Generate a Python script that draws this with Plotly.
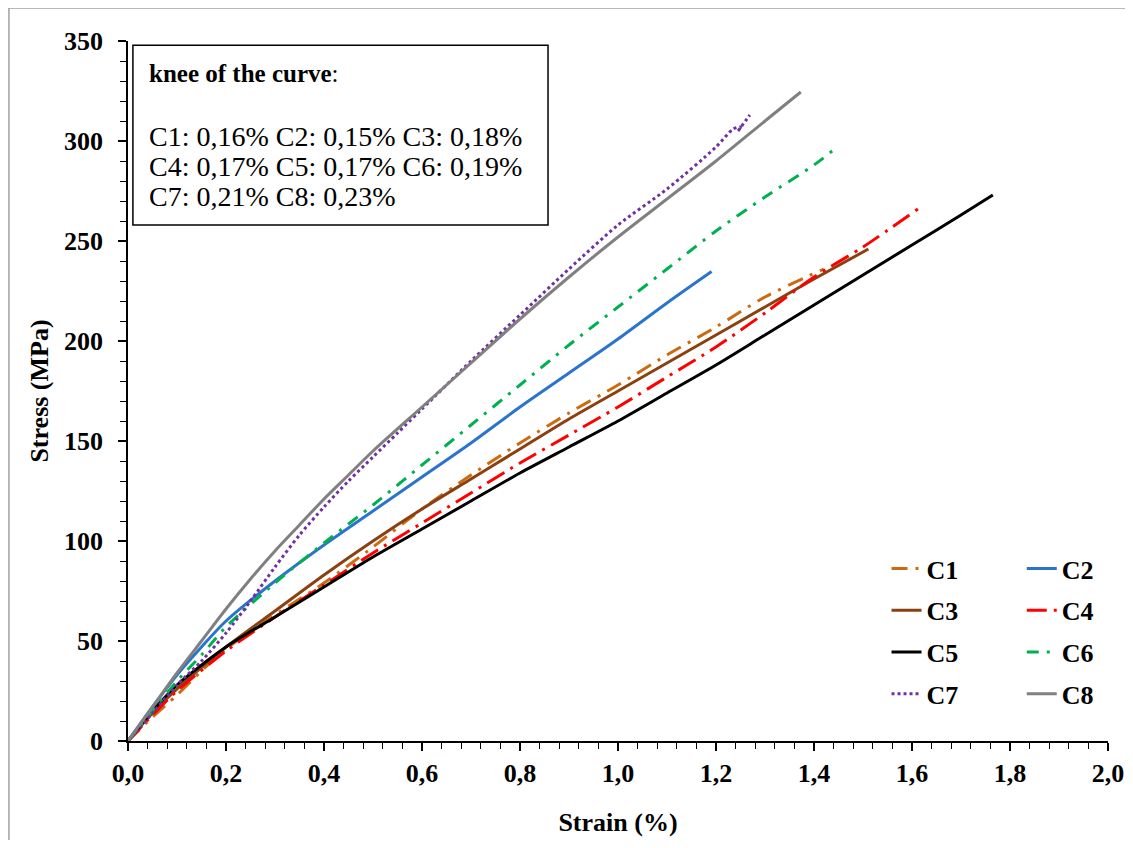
import plotly.graph_objects as go

# stress-strain curves (strain in %, stress in MPa)
c1_strain = [0, 0.05, 0.1, 0.15, 0.2, 0.3, 0.4, 0.5, 0.6, 0.7, 0.8, 0.9, 1.0, 1.1, 1.2, 1.3, 1.42]
c1_stress = [0, 12, 23, 35, 46, 63, 79, 97, 116, 133, 149, 164, 178, 193, 207, 222, 236]

c2_strain = [0, 0.05, 0.1, 0.15, 0.2, 0.3, 0.4, 0.5, 0.6, 0.7, 0.8, 0.9, 1.0, 1.1, 1.191]
c2_stress = [0, 17, 33, 47, 60, 80, 98, 115, 132, 149, 167, 184, 201, 219, 234.7]

c3_strain = [0, 0.05, 0.1, 0.2, 0.3, 0.4, 0.5, 0.6, 0.7, 0.8, 0.9, 1.0, 1.1, 1.2, 1.3, 1.4, 1.511]
c3_stress = [0, 14, 26, 47, 65, 83, 100, 116, 131, 146, 161, 175, 189, 203, 217, 231, 246]

c4_strain = [0, 0.05, 0.1, 0.2, 0.3, 0.4, 0.5, 0.6, 0.7, 0.8, 0.9, 1.0, 1.1, 1.2, 1.3, 1.4, 1.5, 1.616]
c4_stress = [0, 13, 25, 45, 62, 78, 94, 109, 124, 139, 153, 167, 182, 197, 214, 232, 247, 266.7]

c5_strain = [0, 0.05, 0.1, 0.2, 0.3, 0.4, 0.5, 0.6, 0.7, 0.8, 0.9, 1.0, 1.1, 1.2, 1.3, 1.4, 1.5, 1.6, 1.7, 1.765]
c5_stress = [0, 15, 28, 47, 62, 77, 92, 106, 120, 134, 147, 160, 174, 188, 203, 218, 233, 248, 263, 273]

c6_strain = [0, 0.05, 0.1, 0.15, 0.2, 0.3, 0.4, 0.5, 0.6, 0.7, 0.8, 0.9, 1.0, 1.1, 1.2, 1.3, 1.4, 1.437]
c6_stress = [0, 15, 30, 43, 57, 79, 99, 118, 138, 158, 178, 198, 217, 236, 255, 272, 288, 295]

c7_strain = [0, 0.05, 0.1, 0.15, 0.2, 0.25, 0.3, 0.35, 0.4, 0.45, 0.5, 0.55, 0.6, 0.7, 0.8, 0.9, 1.0,
             1.1, 1.2, 1.235, 1.25, 1.245, 1.26, 1.269]
c7_stress = [0, 14, 28, 40, 54, 70, 87, 103, 117, 130, 142, 154, 166, 190, 213, 236, 258,
             276, 297, 306, 307, 305, 310, 313]

c8_strain = [0, 0.05, 0.1, 0.15, 0.2, 0.25, 0.3, 0.35, 0.4, 0.45, 0.5, 0.6, 0.7, 0.8, 0.9,
             1.0, 1.1, 1.2, 1.3, 1.373]
c8_stress = [0, 17, 34, 50, 66, 81, 95, 108, 121, 133, 145, 167, 189, 211, 232,
             252, 271, 290, 310, 324.5]

knee_lines = ["C1: 0,16% C2: 0,15% C3: 0,18%",
              "C4: 0,17% C5: 0,17% C6: 0,19%",
              "C7: 0,21% C8: 0,23%"]

serif = "Liberation Serif, Times New Roman, serif"

curves = [
    ("C1", c1_strain, c1_stress, "#CC6A10", "16px,8px,3px,8px", "legend"),
    ("C2", c2_strain, c2_stress, "#2A74CE", "solid", "legend2"),
    ("C3", c3_strain, c3_stress, "#8B4010", "solid", "legend"),
    ("C4", c4_strain, c4_stress, "#FF0000", "20px,7px,3px,7px", "legend2"),
    ("C5", c5_strain, c5_stress, "#000000", "solid", "legend"),
    ("C6", c6_strain, c6_stress, "#00B050", "12px,8px,3px,8px", "legend2"),
    ("C7", c7_strain, c7_stress, "#7030A0", "3px,3px", "legend"),
    ("C8", c8_strain, c8_stress, "#808080", "solid", "legend2"),
]

fig = go.Figure()
for name, xs, ys, color, dash, leg in curves:
    fig.add_trace(go.Scatter(
        x=xs, y=ys, mode="lines", name=name, legend=leg, legendgroup=name,
        line=dict(color=color, width=3, dash=dash, shape="spline", smoothing=0.8),
    ))

legend_style = dict(
    font=dict(family=serif, size=26, color="black", weight="bold"),
    bgcolor="rgba(0,0,0,0)", tracegroupgap=5, traceorder="grouped",
    yanchor="top", xanchor="left",
)

# page body adds an 8px margin, so the figure is 16px smaller than the window
fig.update_layout(
    width=1117, height=832,
    margin=dict(l=120, r=17, t=33, b=99),
    paper_bgcolor="white", plot_bgcolor="white",
    separators=",.",
    font=dict(family=serif, size=26, color="black"),
    legend=dict(x=0.774, y=0.28, **legend_style),
    legend2=dict(x=0.912, y=0.28, **legend_style),
    xaxis=dict(
        range=[0, 2], tickmode="linear", tick0=0, dtick=0.2, tickformat=".1f",
        automargin=False,
        showgrid=False, zeroline=False, showline=True, linecolor="black", linewidth=1.5,
        ticks="outside", ticklen=8, tickwidth=1.5, tickcolor="black",
        minor=dict(dtick=0.04, ticks="outside", ticklen=6, tickwidth=1, tickcolor="black"),
        tickfont=dict(family=serif, size=26, weight="bold"),
        title=dict(text="<b>Strain (%)</b>", font=dict(family=serif, size=26), standoff=26),
    ),
    yaxis=dict(
        range=[0, 350], tickmode="linear", tick0=0, dtick=50,
        automargin=False,
        showgrid=False, zeroline=False, showline=True, linecolor="black", linewidth=1.5,
        ticks="outside", ticklen=8, tickwidth=1.5, tickcolor="black",
        minor=dict(dtick=10, ticks="outside", ticklen=6, tickwidth=1, tickcolor="black"),
        tickfont=dict(family=serif, size=26, weight="bold"),
        ticklabelstandoff=10,
        title=dict(text="<b>Stress (MPa)</b>", font=dict(family=serif, size=26), standoff=8),
    ),
)

# knee box
fig.add_shape(type="rect", xref="paper", yref="paper", x0=0.005, x1=0.4286, y0=0.737, y1=0.994,
              line=dict(color="black", width=1.5), fillcolor="white", layer="above")
fig.add_annotation(xref="paper", yref="paper", x=0.019, y=0.954, xanchor="left", yanchor="middle",
                   text="<b>knee of the curve</b>:", showarrow=False, align="left",
                   font=dict(family=serif, size=25))
for i, line in enumerate(knee_lines):
    fig.add_annotation(xref="paper", yref="paper", x=0.019, y=0.863 - i * 0.0428,
                       xanchor="left", yanchor="middle", text=line, showarrow=False,
                       align="left", font=dict(family=serif, size=28))

# thin frame of the original picture (left and top edges)
fig.add_shape(type="line", xref="paper", yref="paper", x0=-0.1215, x1=-0.1215, y0=-0.2, y1=1.047,
              line=dict(color="#A0A0A0", width=1.5))
fig.add_shape(type="line", xref="paper", yref="paper", x0=-0.1215, x1=1.03, y0=1.047, y1=1.047,
              line=dict(color="#A0A0A0", width=1.5))

fig.write_html("out.html")
